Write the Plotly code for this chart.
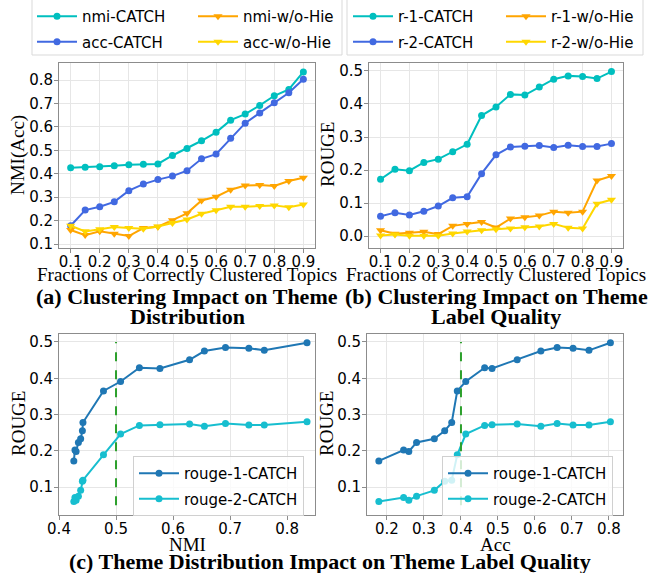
import plotly.graph_objects as go

# ---------------- data ----------------
fractions = [0.1, 0.15, 0.2, 0.25, 0.3, 0.35, 0.4, 0.45, 0.5, 0.55, 0.6, 0.65, 0.7, 0.75, 0.8, 0.85, 0.9]
frac_ticks = [0.1, 0.2, 0.3, 0.4, 0.5, 0.6, 0.7, 0.8, 0.9]

nmi_catch = [0.426, 0.428, 0.430, 0.434, 0.438, 0.441, 0.442, 0.478, 0.508, 0.541, 0.577, 0.629, 0.655, 0.692, 0.733, 0.760, 0.835]
acc_catch = [0.178, 0.245, 0.259, 0.280, 0.328, 0.356, 0.375, 0.390, 0.413, 0.464, 0.484, 0.552, 0.616, 0.660, 0.703, 0.746, 0.804]
nmi_wo = [0.160, 0.138, 0.154, 0.144, 0.134, 0.168, 0.174, 0.202, 0.231, 0.286, 0.302, 0.332, 0.350, 0.352, 0.348, 0.369, 0.383]
acc_wo = [0.178, 0.154, 0.163, 0.173, 0.168, 0.165, 0.175, 0.190, 0.205, 0.229, 0.244, 0.259, 0.259, 0.262, 0.265, 0.257, 0.269]

r1_catch = [0.172, 0.202, 0.198, 0.223, 0.233, 0.255, 0.278, 0.365, 0.391, 0.429, 0.427, 0.451, 0.475, 0.485, 0.483, 0.477, 0.498]
r2_catch = [0.060, 0.071, 0.064, 0.075, 0.091, 0.116, 0.119, 0.189, 0.246, 0.270, 0.272, 0.274, 0.268, 0.275, 0.271, 0.271, 0.280]
r1_wo = [0.018, 0.007, 0.010, 0.013, 0.006, 0.031, 0.037, 0.043, 0.026, 0.053, 0.057, 0.062, 0.074, 0.071, 0.074, 0.168, 0.182]
r2_wo = [0.002, 0.005, 0.001, 0.001, 0.001, 0.008, 0.014, 0.018, 0.021, 0.023, 0.027, 0.029, 0.037, 0.025, 0.023, 0.098, 0.110]

nmi_threshold = 0.5
acc_threshold = 0.4
threshold_span = [0.05, 0.5]

# ---------------- style ----------------
W, H = 659, 573
ML, MR = 32, 16
PW = W - ML - MR

def px_x(p):
    return (p - ML) / PW

def px_y(p):
    return 1 - p / H

C_CYAN = "#00bfbf"
C_BLUE = "#4169e1"
C_ORANGE = "#ffa500"
C_GOLD = "#ffd700"
C_R1 = "#1f77b4"
C_R2 = "#17becf"
C_GREEN = "#2ca02c"
SANS = "DejaVu Sans"
SERIF = "Liberation Serif"

fig = go.Figure()

def line(x, y, name, color, symbol, xa, ya, legend, msize=7):
    fig.add_trace(go.Scatter(
        x=x, y=y, name=name, mode="lines+markers",
        line=dict(color=color, width=2),
        marker=dict(color=color, symbol=symbol, size=msize),
        xaxis=xa, yaxis=ya, legend=legend, legendgroup=name + xa))

# (a)
line(fractions, nmi_catch, "nmi-CATCH", C_CYAN, "circle", "x", "y", "legend")
line(fractions, acc_catch, "acc-CATCH", C_BLUE, "circle", "x", "y", "legend")
line(fractions, nmi_wo, "nmi-w/o-Hie", C_ORANGE, "triangle-down", "x", "y", "legend2", msize=8)
line(fractions, acc_wo, "acc-w/o-Hie", C_GOLD, "triangle-down", "x", "y", "legend2", msize=8)
# (b)
line(fractions, r1_catch, "r-1-CATCH", C_CYAN, "circle", "x2", "y2", "legend3")
line(fractions, r2_catch, "r-2-CATCH", C_BLUE, "circle", "x2", "y2", "legend3")
line(fractions, r1_wo, "r-1-w/o-Hie", C_ORANGE, "triangle-down", "x2", "y2", "legend4", msize=8)
line(fractions, r2_wo, "r-2-w/o-Hie", C_GOLD, "triangle-down", "x2", "y2", "legend4", msize=8)
# (c) left
line(nmi_catch, r1_catch, "rouge-1-CATCH", C_R1, "circle", "x3", "y3", "legend5")
line(nmi_catch, r2_catch, "rouge-2-CATCH", C_R2, "circle", "x3", "y3", "legend5")
fig.add_trace(go.Scatter(x=[nmi_threshold, nmi_threshold], y=threshold_span, mode="lines",
                         line=dict(color=C_GREEN, width=2, dash="dash"),
                         xaxis="x3", yaxis="y3", showlegend=False))
# (c) right
line(acc_catch, r1_catch, "rouge-1-CATCH", C_R1, "circle", "x4", "y4", "legend6")
line(acc_catch, r2_catch, "rouge-2-CATCH", C_R2, "circle", "x4", "y4", "legend6")
fig.add_trace(go.Scatter(x=[acc_threshold, acc_threshold], y=threshold_span, mode="lines",
                         line=dict(color=C_GREEN, width=2, dash="dash"),
                         xaxis="x4", yaxis="y4", showlegend=False))

AX = dict(showline=True, linecolor="#8c8c8c", linewidth=1, mirror=True,
          showgrid=True, gridcolor="#e6e6e6", zeroline=False,
          ticks="outside", ticklen=4, tickcolor="#8c8c8c",
          tickfont=dict(family=SANS, size=15, color="black"))
XA = dict(AX, ticklabelstandoff=-4)
YA = dict(AX, ticklabelstandoff=-2)

top_dom = [px_y(248), px_y(63)]
bot_dom = [px_y(515), px_y(334)]

fig.update_layout(
    width=W, height=H,
    margin=dict(l=ML, r=MR, t=0, b=0, autoexpand=False),
    plot_bgcolor="white", paper_bgcolor="white",
    xaxis=dict(XA, domain=[px_x(59), px_x(315)], range=[0.06, 0.94], tickvals=frac_ticks,
               tickformat=".1f", anchor="y"),
    yaxis=dict(YA, domain=top_dom, range=[0.083, 0.873], dtick=0.1, tickformat=".1f", anchor="x"),
    xaxis2=dict(XA, domain=[px_x(369), px_x(623)], range=[0.06, 0.94], tickvals=frac_ticks,
                tickformat=".1f", anchor="y2"),
    yaxis2=dict(YA, domain=top_dom, range=[-0.036, 0.524], dtick=0.1, tickformat=".1f", anchor="x2"),
    xaxis3=dict(XA, domain=[px_x(59), px_x(315)], range=[0.40, 0.849], dtick=0.1, tickformat=".1f",
                anchor="y3"),
    yaxis3=dict(YA, domain=bot_dom, range=[0.023, 0.522], dtick=0.1, tickformat=".1f", anchor="x3"),
    xaxis4=dict(XA, domain=[px_x(367), px_x(623)], range=[0.146, 0.838], dtick=0.1, tickformat=".1f",
                anchor="y4"),
    yaxis4=dict(YA, domain=bot_dom, range=[0.023, 0.522], dtick=0.1, tickformat=".1f", anchor="x4"),
)

LEGFONT = dict(family=SANS, size=15, color="black")
def leg(xp, yp, border=False):
    d = dict(x=px_x(xp), y=px_y(yp), xanchor="left", yanchor="top", orientation="v",
             font=LEGFONT, bgcolor="rgba(0,0,0,0)", borderwidth=0, itemwidth=40,
             tracegroupgap=3)
    if border:
        d.update(bgcolor="rgba(255,255,255,0.8)", bordercolor="#d0d0d0", borderwidth=1)
    return d

fig.update_layout(
    legend=leg(32, 0), legend2=leg(193, 0),
    legend3=leg(348, 0), legend4=leg(501, 0),
    legend5=leg(133, 456, True), legend6=leg(442, 456, True),
)

# legend frames for the top panels
for x0, x1 in [(32, 342), (347, 643)]:
    fig.add_shape(type="rect", xref="paper", yref="paper",
                  x0=px_x(x0), x1=px_x(x1), y0=px_y(55), y1=px_y(-6),
                  line=dict(color="#d9d9d9", width=1), fillcolor="white", layer="below")

# axis titles
AF = dict(family=SERIF, size=19, color="black")
axis_titles = [
    ("NMI(Acc)", 18, 155, -90),
    ("ROUGE", 327, 155, -90),
    ("ROUGE", 18, 424, -90),
    ("ROUGE", 326, 424, -90),
    ("Fractions of Correctly Clustered Topics", 187, 274, 0),
    ("Fractions of Correctly Clustered Topics", 496, 274, 0),
    ("NMI", 187, 544, 0),
    ("Acc", 495, 544, 0),
]
for t, xp, yp, ang in axis_titles:
    fig.add_annotation(text=t, x=px_x(xp), y=px_y(yp), xref="paper", yref="paper",
                       xanchor="center", yanchor="middle", showarrow=False, font=AF,
                       textangle=ang)

TF = dict(family=SERIF, size=22, color="black")
ann = [
    ("<b>(a) Clustering Impact on Theme</b>", 187, 296),
    ("<b>Distribution</b>", 187, 316),
    ("<b>(b) Clustering Impact on Theme</b>", 496, 296),
    ("<b>Label Quality</b>", 496, 316),
    ("<b>(c) Theme Distribution Impact on Theme Label Quality</b>", 330, 561),
]
for t, xp, yp in ann:
    fig.add_annotation(text=t, x=px_x(xp), y=px_y(yp), xref="paper", yref="paper",
                       xanchor="center", yanchor="middle", showarrow=False, font=TF)

fig.write_html("out.html", config={"displayModeBar": False},
               post_script="document.body.style.margin='0px';")
